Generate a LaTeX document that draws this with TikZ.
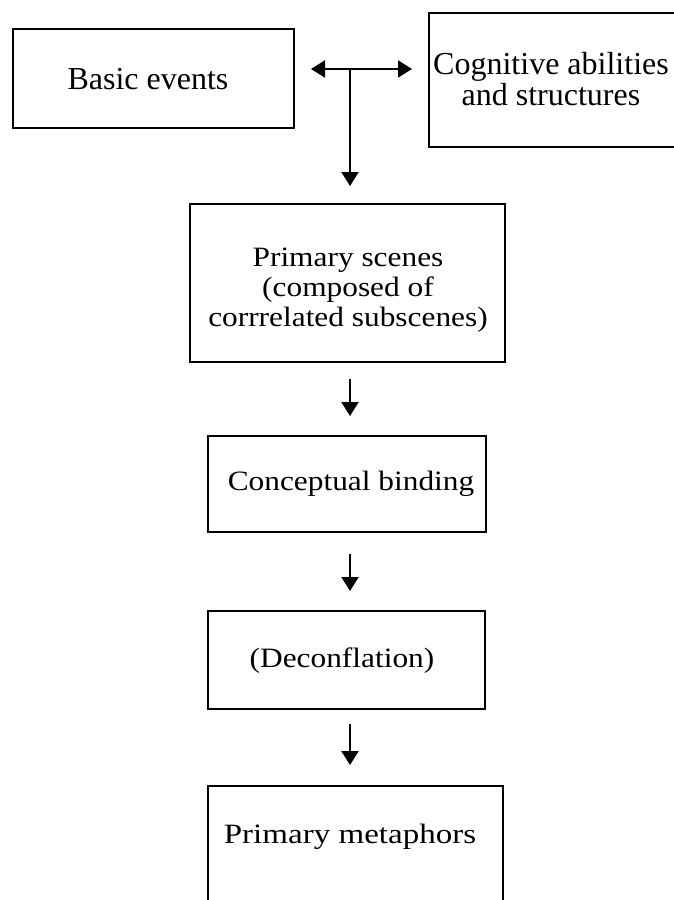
\documentclass[tikz,border=0pt]{standalone}
\usepackage{fontspec}
\setmainfont{Liberation Serif}
\newfontfamily\lowfont[FakeStretch=1.12]{Liberation Serif}
\newfontfamily\widefont[FakeStretch=1.18]{Liberation Serif}
\usetikzlibrary{arrows.meta}
\begin{document}
\begin{tikzpicture}[x=1pt,y=-1pt,
  box/.style={draw, line width=2pt, inner sep=0pt, anchor=north west},
  lbl/.style={font=\fontsize{28}{30}\lowfont, align=center, inner sep=0pt},
  tlbl/.style={font=\fontsize{32}{31}\selectfont, align=center, inner sep=0pt},
  tip/.tip={Triangle[length=14pt,width=17pt]},
  arr/.style={line width=2pt, -tip},
  darr/.style={line width=2pt, tip-tip},
]
\useasboundingbox (0,0) rectangle (674,900);
\clip (0,0) rectangle (674,900);

% boxes
\node[box, minimum width=281pt, minimum height=99pt] (basic) at (12,28) {};
\node[tlbl] (basictxt) at (148,79) {Basic events};

\node[box, minimum width=262pt, minimum height=134pt] (cog) at (428,12) {};
\node[tlbl] (cogtxt) at (551,79) {Cognitive abilities\\and structures};

\node[box, minimum width=315pt, minimum height=158pt] (ps) at (189,203) {};
\node[lbl] (pstxt) at (348,290) {Primary scenes\\(composed of\\corrrelated subscenes)};

\node[box, minimum width=278pt, minimum height=96pt] (conc) at (207,435) {};
\node[lbl] (conctxt) at (351,484) {Conceptual binding};

\node[box, minimum width=277pt, minimum height=98pt] (dec) at (207,610) {};
\node[lbl] (dectxt) at (342,661) {(Deconflation)};

\node[box, minimum width=295pt, minimum height=160pt] (pm) at (207,785) {};
\node[lbl, font=\fontsize{28}{30}\widefont] (pmtxt) at (350,837) {Primary metaphors};

% connectors
\coordinate (aL) at (311,69);
\coordinate (aR) at (412,69);
\coordinate (aM) at (350,69);
\draw[darr] (aL) -- (aR);
\draw[arr, shorten >=17pt] (aM) -- (aM |- ps.north);
\draw[arr, shorten <=16pt, shorten >=19pt] (ps.south -| aM) -- (conc.north -| aM);
\draw[arr, shorten <=21pt, shorten >=19pt] (conc.south -| aM) -- (dec.north -| aM);
\draw[arr, shorten <=14pt, shorten >=20pt] (dec.south -| aM) -- (pm.north -| aM);
\end{tikzpicture}
\end{document}
